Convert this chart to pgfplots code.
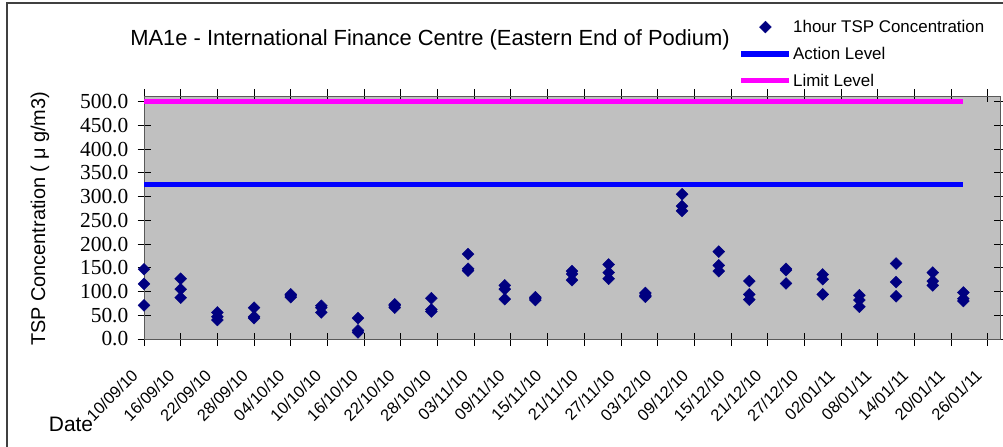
\documentclass[border=0pt]{standalone}
\usepackage{pgfplots}
\pgfplotsset{compat=1.18}
\usepackage{fontspec}
\setmainfont{Liberation Sans}
\newfontfamily\seriffont{Liberation Serif}
\definecolor{plotgrey}{RGB}{192,192,192}
\definecolor{navymk}{RGB}{0,0,128}
\definecolor{actionblue}{RGB}{0,0,255}
\definecolor{limitmag}{RGB}{255,0,255}

\pgfplotsset{
  legline/.style={legend image code/.code={\draw[##1] (0bp,0bp) -- (48bp,0bp);}},
  legmark/.style={legend image code/.code={\draw[##1] plot coordinates {(24bp,0bp)};}},
}

% x = days after 10/09/10
\pgfplotstableread{
d   v
0   147
0   116
0   71
6   127
6   105
6   87
12  56
12  47
12  40
18  66
18  47
18  44
24  94
24  91
24  88
29  70
29  66
29  56
35  44
35  18
35  14
41  73
41  70
41  66
47  86
47  62
47  58
53  179
53  148
53  144
59  113
59  105
59  84
64  88
64  85
64  82
70  143
70  137
70  124
76  157
76  140
76  127
82  97
82  92
82  89
88  305
88  280
88  270
94  184
94  155
94  143
99  122
99  94
99  83
105 148
105 145
105 117
111 136
111 126
111 94
117 92
117 82
117 68
123 159
123 120
123 90
129 140
129 122
129 113
134 98
134 85
134 80
}\tsp

\begin{document}
\begin{tikzpicture}
\path[use as bounding box] (0,0) rectangle (1003bp,447bp);
\draw[line width=1.2bp, black!75] (7bp,0) -- (7bp,444bp) -- (1003bp,444bp);
\node[font=\fontsize{22}{22}\selectfont] at (430bp,407bp) {MA1e - International Finance Centre (Eastern End of Podium)};
\node[rotate=90, font=\fontsize{20}{20}\selectfont] at (40bp,228bp) {TSP Concentration ( μ g/m3)};
\node[font=\fontsize{21}{21}\selectfont] at (71bp,23bp) {Date};
\begin{axis}[
  at={(144bp,108bp)}, anchor=south west,
  scale only axis, width=856bp, height=243bp,
  xmin=0, xmax=140, ymin=0, ymax=512,
  clip mode=individual,
  axis background/.style={fill=plotgrey},
  axis line style={black!65, line width=0.9bp},
  xtick={0,6,...,138},
  xticklabels={10/09/10,16/09/10,22/09/10,28/09/10,04/10/10,10/10/10,16/10/10,22/10/10,28/10/10,03/11/10,09/11/10,15/11/10,21/11/10,27/11/10,03/12/10,09/12/10,15/12/10,21/12/10,27/12/10,02/01/11,08/01/11,14/01/11,20/01/11,26/01/11},
  ytick={0,50,...,500},
  tick align=center, major tick length=13bp,
  tick style={black, line width=0.8bp},
  yticklabel style={font=\seriffont\fontsize{21.5}{21.5}\selectfont, anchor=east, inner sep=0pt, xshift=-9bp,
    /pgf/number format/.cd, fixed, fixed zerofill, precision=1, assume math mode=true},
  xticklabel style={font=\fontsize{16.5}{16.5}\selectfont, rotate=45, anchor=east, inner sep=0pt, xshift=-25.5bp, yshift=-12.7bp},
  legend style={draw=none, fill=none, at={(axis description cs:0.691,1.325)}, anchor=north west,
    font=\fontsize{17}{17}\selectfont, row sep=11bp, nodes={inner sep=1bp},
    /tikz/every even column/.append style={column sep=0pt}},
  legend cell align=left,
]
\addplot[only marks, mark=square*, mark size=4.2bp, mark options={rotate=45, fill=navymk, draw=navymk}, legmark]
  table[x=d, y=v] {\tsp};
\addlegendentry{1hour TSP Concentration}
\addplot[actionblue, line width=5.5bp, mark=none, legline]
  coordinates {(0,325) (134,325)};
\addlegendentry{Action Level}
\addplot[limitmag, line width=5.5bp, mark=none, legline]
  coordinates {(0,500) (134,500)};
\addlegendentry{Limit Level}
\end{axis}
\end{tikzpicture}
\end{document}
